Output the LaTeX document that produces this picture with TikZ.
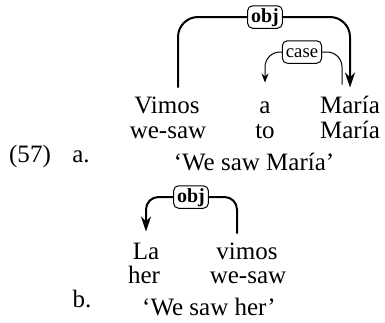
\documentclass[tikz,border=0pt]{standalone}
\usepackage{fontspec}
\setmainfont{Liberation Serif}
\usetikzlibrary{arrows.meta}
\begin{document}
\begin{tikzpicture}[x=0.4pt, y=-0.4pt,
    word/.style={anchor=base, inner xsep=0pt, inner ysep=3pt, text height=7pt, text depth=2pt, font=\fontsize{10}{12}\selectfont},
    deplabel/.style={draw, fill=white, rounded corners=2pt, line width=0.4pt, inner xsep=1.4pt, inner ysep=1pt, text height=5.5pt, text depth=1.5pt},
    objlabel/.style={deplabel, font=\fontsize{8}{9}\selectfont\bfseries},
    caselabel/.style={deplabel, font=\fontsize{7.5}{9}\selectfont},
    objarc/.style={line width=0.8pt, rounded corners=8pt},
    casearc/.style={line width=0.4pt, rounded corners=6pt}]

    \useasboundingbox (0,0) rectangle (385,322);

    \node[word] (ex_num) at (30,162) {(57)};
    \node[word] (ex_a) at (81,162) {a.};
    \node[word] (w_vimos) at (167,113) {Vimos};
    \node[word] (w_a) at (265,113) {a};
    \node[word] (w_maria) at (350,113) {María};
    \node[word] (g_wesaw) at (168,138) {we-saw};
    \node[word] (g_to) at (265,138) {to};
    \node[word] (g_maria) at (350,138) {María};
    \node[word] (t_maria) at (254,170) {‘We saw María’};

    \node[objlabel] (l_obj_a) at (265,17) {obj};
    \node[caselabel] (l_case) at (302,52) {case};

    \draw[objarc] ([xshift=4.4pt]w_vimos.north) |- (l_obj_a.west);
    \draw[objarc, -{Stealth[length=6pt, width=4pt]}] (l_obj_a.east) -| (w_maria.north);
    \draw[casearc] ([xshift=-3.2pt, yshift=1.2pt]w_maria.north) |- (l_case.east);
    \draw[casearc, -{Stealth[length=3.6pt, width=2.8pt]}] (l_case.west) -| ([yshift=2pt]w_a.north);

    \node[word] (ex_b) at (82,307) {b.};
    \node[word] (w_la) at (146,259) {La};
    \node[word] (w_vimos_b) at (247,259) {vimos};
    \node[word] (g_her) at (144,283) {her};
    \node[word] (g_wesaw_b) at (248,283) {we-saw};
    \node[word] (t_her) at (209,315) {‘We saw her’};

    \node[objlabel] (l_obj_b) at (191,197) {obj};

    \draw[objarc, rounded corners=5pt] ([xshift=-4pt]w_vimos_b.north) |- (l_obj_b.east);
    \draw[objarc, rounded corners=5pt, -{Stealth[length=6pt, width=4pt]}] (l_obj_b.west) -| ([yshift=0.8pt]w_la.north);

\end{tikzpicture}
\end{document}
